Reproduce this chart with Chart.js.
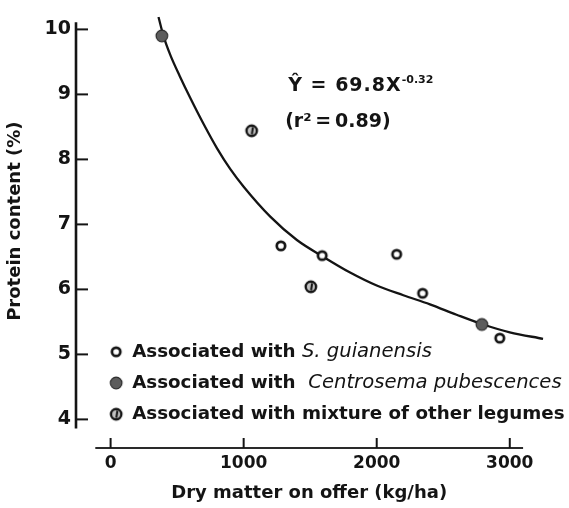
<!DOCTYPE html>
<html>
<head>
<meta charset="utf-8">
<script src="https://cdn.jsdelivr.net/npm/chart.js@4"></script>
<style>
  html, body { margin: 0; padding: 0; background: #fff; }
  #chart { display: block; }
</style>
</head>
<body>
<canvas id="chart" width="569" height="508"></canvas>
<script>
// protein content vs dry matter on offer, split by associated legume
const guianX = [1280, 1590, 2150, 2345, 2925];
const guianY = [6.67, 6.52, 6.54, 5.94, 5.25];
const centroX = [385, 2790];
const centroY = [9.90, 5.46];
const mixX = [1060, 1505];
const mixY = [8.44, 6.04];

// fitted curve, read along its length
const fitX = [360, 400, 450, 520, 600, 700, 800, 900, 1000, 1200, 1400, 1600,
  1800, 2000, 2200, 2400, 2600, 2800, 3000, 3250];
const fitY = [10.19, 9.88, 9.60, 9.28, 8.94, 8.54, 8.17, 7.85, 7.58, 7.12, 6.76, 6.50,
  6.26, 6.06, 5.91, 5.77, 5.61, 5.46, 5.34, 5.24];

const xTicks = [0, 1000, 2000, 3000];
const yTicks = [4, 5, 6, 7, 8, 9, 10];

const legendItems = [
  { kind: 'open', plain: 'Associated with ', italic: 'S. guianensis' },
  { kind: 'gray', plain: 'Associated with  ', italic: 'Centrosema pubescences' },
  { kind: 'mix', plain: 'Associated with mixture of other legumes', italic: '' },
];

const INK = '#141414';
const BOLD = 'bold 18px "DejaVu Sans"';

function pairs(xs, ys) {
  return xs.map((x, i) => ({ x, y: ys[i] }));
}

// small bitmaps used as point styles
function marker(kind) {
  const c = document.createElement('canvas');
  c.width = c.height = 16;
  const g = c.getContext('2d');
  const m = 8;
  g.beginPath();
  if (kind === 'open') {
    g.arc(m, m, 4.2, 0, Math.PI * 2);
    g.fillStyle = '#fff';
    g.fill();
    g.lineWidth = 2.7;
    g.strokeStyle = INK;
    g.stroke();
  } else if (kind === 'gray') {
    g.arc(m, m, 5.8, 0, Math.PI * 2);
    g.fillStyle = '#5c5c5c';
    g.fill();
    g.lineWidth = 1.2;
    g.strokeStyle = '#2a2a2a';
    g.stroke();
  } else {
    g.arc(m, m, 5.2, 0, Math.PI * 2);
    g.fillStyle = '#c4c4c4';
    g.fill();
    g.lineWidth = 2.4;
    g.strokeStyle = INK;
    g.stroke();
    g.beginPath();
    g.moveTo(m + 1.2, m - 3.5);
    g.lineTo(m + 0.2, m + 3.5);
    g.lineWidth = 2;
    g.stroke();
  }
  return c;
}

const markers = { open: marker('open'), gray: marker('gray'), mix: marker('mix') };

// detached axes, inward ticks, titles, equation and legend
const decor = {
  id: 'decor',
  beforeDraw(chart) {
    const { ctx } = chart;
    ctx.save();
    ctx.fillStyle = '#fff';
    ctx.fillRect(0, 0, chart.width, chart.height);
    ctx.restore();
  },
  beforeDatasetsDraw(chart) {
    const { ctx, chartArea, scales: { x, y } } = chart;
    ctx.save();
    ctx.strokeStyle = INK;
    ctx.lineCap = 'butt';

    // y axis
    const ax = chartArea.left;
    ctx.lineWidth = 2.6;
    ctx.beginPath();
    ctx.moveTo(ax, y.getPixelForValue(10.11));
    ctx.lineTo(ax, y.getPixelForValue(3.86));
    ctx.stroke();
    ctx.lineWidth = 2;
    yTicks.forEach((v) => {
      const py = y.getPixelForValue(v);
      ctx.beginPath();
      ctx.moveTo(ax, py);
      ctx.lineTo(ax + 12, py);
      ctx.stroke();
    });

    // x axis
    const ay = chartArea.bottom;
    ctx.lineWidth = 2.2;
    ctx.strokeStyle = '#2a2a2a';
    ctx.beginPath();
    ctx.moveTo(x.getPixelForValue(-115), ay);
    ctx.lineTo(x.getPixelForValue(3100), ay);
    ctx.stroke();
    ctx.lineWidth = 2;
    ctx.strokeStyle = INK;
    xTicks.forEach((v) => {
      const px = x.getPixelForValue(v);
      ctx.beginPath();
      ctx.moveTo(px, ay);
      ctx.lineTo(px, ay - 10);
      ctx.stroke();
    });

    ctx.fillStyle = INK;
    ctx.font = BOLD;
    ctx.textBaseline = 'middle';
    ctx.textAlign = 'center';
    ctx.fillText('Dry matter on offer (kg/ha)',
      (x.getPixelForValue(-115) + x.getPixelForValue(3100)) / 2, ay + 45);

    ctx.save();
    ctx.translate(15, y.getPixelForValue(7.05));
    ctx.rotate(-Math.PI / 2);
    ctx.fillText('Protein content (%)', 0, 0);
    ctx.restore();

    // regression equation
    ctx.textAlign = 'left';
    ctx.textBaseline = 'alphabetic';
    let ex = x.getPixelForValue(1335);
    const eb = y.getPixelForValue(9.06);
    const main = 'Ŷ = 69.8X';
    ctx.font = 'bold 19px "DejaVu Sans"';
    ctx.letterSpacing = '1px';
    ctx.fillText(main, ex, eb);
    ex += ctx.measureText(main).width;
    ctx.letterSpacing = '0px';
    ctx.font = 'bold 11px "DejaVu Sans"';
    ctx.fillText('-0.32', ex, eb - 8);
    ctx.font = 'bold 19px "DejaVu Sans"';
    ctx.fillText('(r²\u2009=\u20090.89)', x.getPixelForValue(1312), y.getPixelForValue(8.50));

    // legend
    const lx = x.getPixelForValue(42);
    const tx = x.getPixelForValue(162);
    const rows = [5.04, 4.56, 4.08];
    ctx.textBaseline = 'middle';
    legendItems.forEach((item, i) => {
      const py = y.getPixelForValue(rows[i]);
      const img = markers[item.kind];
      ctx.drawImage(img, lx - img.width / 2, py - img.height / 2);
      ctx.font = 'bold 18.3px "DejaVu Sans"';
      ctx.fillText(item.plain, tx, py);
      if (item.italic) {
        const w = ctx.measureText(item.plain).width;
        ctx.font = 'oblique 19.6px "DejaVu Sans"';
        ctx.fillText(item.italic, tx + w, py);
      }
    });
    ctx.restore();
  },
};

new Chart(document.getElementById('chart'), {
  type: 'scatter',
  data: {
    datasets: [
      {
        type: 'line',
        label: 'Fitted',
        data: pairs(fitX, fitY),
        borderColor: INK,
        borderWidth: 2.3,
        pointRadius: 0,
        cubicInterpolationMode: 'monotone',
        fill: false,
        order: 5,
      },
      {
        label: 'S. guianensis',
        data: pairs(guianX, guianY),
        pointStyle: markers.open,
        order: 1,
      },
      {
        label: 'Centrosema pubescences',
        data: pairs(centroX, centroY),
        pointStyle: markers.gray,
        order: 1,
      },
      {
        label: 'Mixture of other legumes',
        data: pairs(mixX, mixY),
        pointStyle: markers.mix,
        order: 1,
      },
    ],
  },
  options: {
    responsive: false,
    animation: false,
    layout: { padding: { top: 9, right: 6, left: 0, bottom: 0 } },
    plugins: {
      legend: { display: false },
      tooltip: { enabled: false },
    },
    scales: {
      x: {
        type: 'linear',
        min: -260,
        max: 3400,
        grid: { display: false, drawTicks: false },
        border: { display: false },
        afterFit: (s) => { s.height = 60; },
        afterBuildTicks: (s) => { s.ticks = xTicks.map((value) => ({ value })); },
        ticks: {
          padding: 5,
          color: INK,
          callback: (v) => String(v),
          font: { family: 'DejaVu Sans', size: 17, weight: 'bold' },
        },
      },
      y: {
        type: 'linear',
        min: 3.56,
        max: 10.2,
        grid: { display: false, drawTicks: false },
        border: { display: false },
        afterFit: (s) => { s.width = 76; },
        afterBuildTicks: (s) => { s.ticks = yTicks.map((value) => ({ value })); },
        ticks: {
          padding: 5,
          color: INK,
          font: { family: 'DejaVu Sans', size: 19, weight: 'bold' },
        },
      },
    },
  },
  plugins: [decor],
});
</script>
</body>
</html>
